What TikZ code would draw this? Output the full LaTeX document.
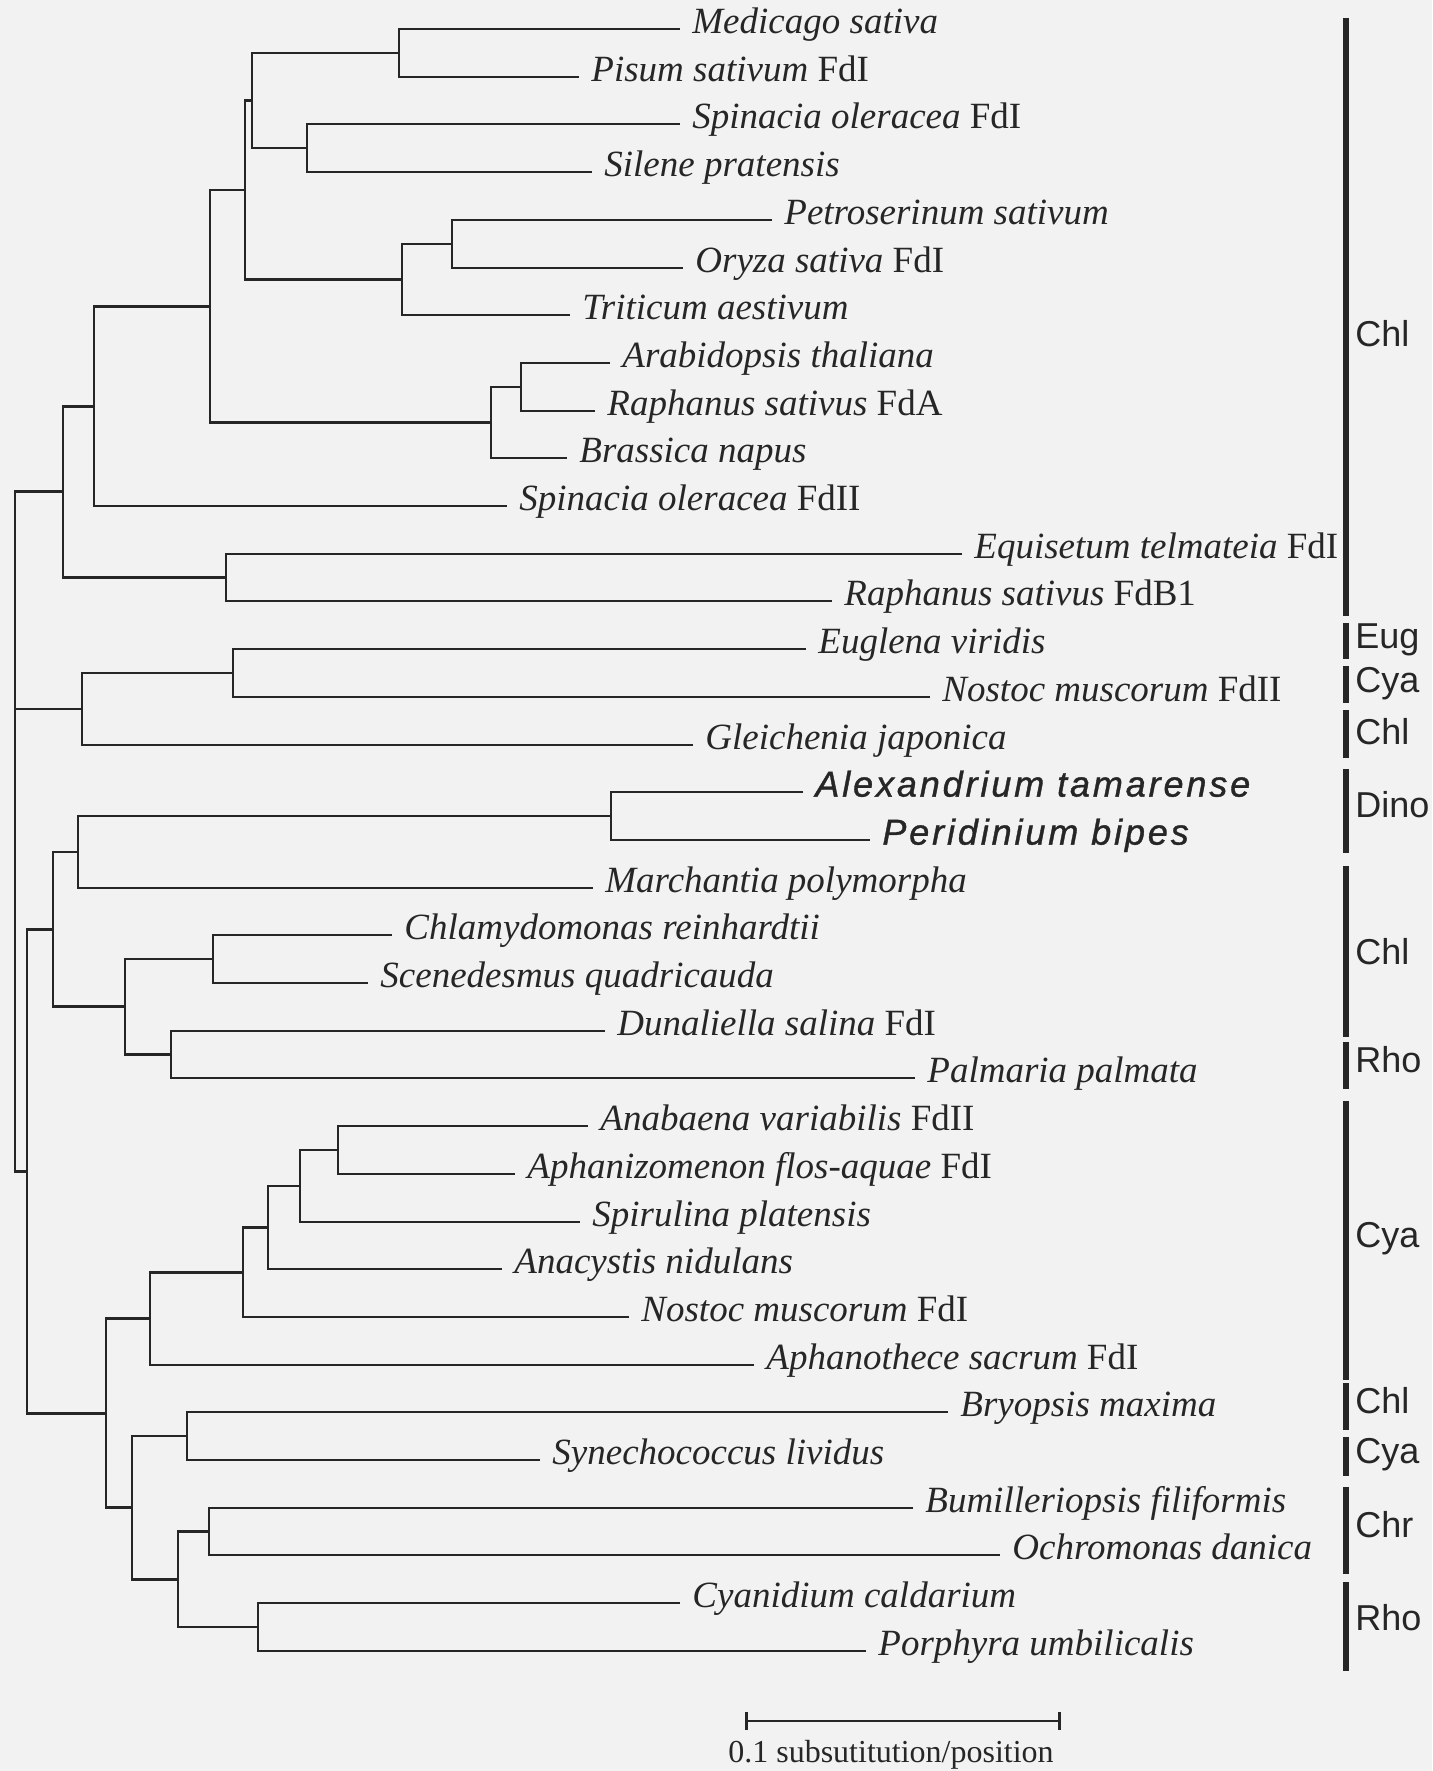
\documentclass[tikz,border=0pt]{standalone}
\usepackage{fontspec}
\setmainfont{Liberation Serif}
\newfontfamily\cladefont{Liberation Sans}
\newfontfamily\dinofont[LetterSpace=8,FakeBold=1]{Liberation Sans}
\usetikzlibrary{arrows.meta}
\tikzset{
  tree/.style={line width=1.4pt,black!85},
  leaf/.style={anchor=mid west,inner xsep=6pt,inner ysep=0pt,text=black!85,font=\fontsize{18.5}{22}\selectfont},
  dino/.style={leaf,font=\dinofont\itshape\fontsize{18}{21}\selectfont},
  cladebar/.style={line width=3pt,black!85},
  clade/.style={anchor=mid west,inner xsep=3pt,inner ysep=0pt,text=black!85,font=\cladefont\fontsize{18}{21}\selectfont}
}
\begin{document}
\begin{tikzpicture}[x=0.5pt,y=-0.5pt]
\fill[black!5] (0,0) rectangle (1432,1771);
\useasboundingbox (0,0) rectangle (1432,1771);
\node[leaf] (t1) at (680,29) {\textit{Medicago sativa}};
\node[leaf] (t2) at (579,77) {\textit{Pisum sativum} FdI};
\node[leaf] (t3) at (680,124) {\textit{Spinacia oleracea} FdI};
\node[leaf] (t4) at (592,172) {\textit{Silene pratensis}};
\node[leaf] (t5) at (772,220) {\textit{Petroserinum sativum}};
\node[leaf] (t6) at (683,268) {\textit{Oryza sativa} FdI};
\node[leaf] (t7) at (570,315) {\textit{Triticum aestivum}};
\node[leaf] (t8) at (610,363) {\textit{Arabidopsis thaliana}};
\node[leaf] (t9) at (595,411) {\textit{Raphanus sativus} FdA};
\node[leaf] (t10) at (567,458) {\textit{Brassica napus}};
\node[leaf] (t11) at (507,506) {\textit{Spinacia oleracea} FdII};
\node[leaf] (t12) at (962,554) {\textit{Equisetum telmateia} FdI};
\node[leaf] (t13) at (832,601) {\textit{Raphanus sativus} FdB1};
\node[leaf] (t14) at (806,649) {\textit{Euglena viridis}};
\node[leaf] (t15) at (930,697) {\textit{Nostoc muscorum} FdII};
\node[leaf] (t16) at (693,745) {\textit{Gleichenia japonica}};
\node[dino] (t17) at (803,792) {Alexandrium tamarense};
\node[dino] (t18) at (870,840) {Peridinium bipes};
\node[leaf] (t19) at (593,888) {\textit{Marchantia polymorpha}};
\node[leaf] (t20) at (392,935) {\textit{Chlamydomonas reinhardtii}};
\node[leaf] (t21) at (368,983) {\textit{Scenedesmus quadricauda}};
\node[leaf] (t22) at (605,1031) {\textit{Dunaliella salina} FdI};
\node[leaf] (t23) at (915,1078) {\textit{Palmaria palmata}};
\node[leaf] (t24) at (588,1126) {\textit{Anabaena variabilis} FdII};
\node[leaf] (t25) at (515,1174) {\textit{Aphanizomenon flos-aquae} FdI};
\node[leaf] (t26) at (580,1222) {\textit{Spirulina platensis}};
\node[leaf] (t27) at (502,1269) {\textit{Anacystis nidulans}};
\node[leaf] (t28) at (629,1317) {\textit{Nostoc muscorum} FdI};
\node[leaf] (t29) at (754,1365) {\textit{Aphanothece sacrum} FdI};
\node[leaf] (t30) at (948,1412) {\textit{Bryopsis maxima}};
\node[leaf] (t31) at (540,1460) {\textit{Synechococcus lividus}};
\node[leaf] (t32) at (913,1508) {\textit{Bumilleriopsis filiformis}};
\node[leaf] (t33) at (1000,1555) {\textit{Ochromonas danica}};
\node[leaf] (t34) at (680,1603) {\textit{Cyanidium caldarium}};
\node[leaf] (t35) at (866,1651) {\textit{Porphyra umbilicalis}};
\coordinate (n1) at (399,53);
\coordinate (n2) at (307,148);
\coordinate (n3) at (252,100.5);
\coordinate (n4) at (452,244);
\coordinate (n5) at (402,279.5);
\coordinate (n6) at (245,190);
\coordinate (n7) at (521,387);
\coordinate (n8) at (491,422.5);
\coordinate (n9) at (210,306.25);
\coordinate (n10) at (94,406.1);
\coordinate (n11) at (226,577.5);
\coordinate (n12) at (63,491.8);
\coordinate (n13) at (233,673);
\coordinate (n14) at (82,709);
\coordinate (n15) at (611,816);
\coordinate (n16) at (78,852);
\coordinate (n17) at (213,959);
\coordinate (n18) at (171,1054.5);
\coordinate (n19) at (125,1006.75);
\coordinate (n20) at (53,929.4);
\coordinate (n21) at (338,1150);
\coordinate (n22) at (300,1186);
\coordinate (n23) at (268,1227.5);
\coordinate (n24) at (243,1272.25);
\coordinate (n25) at (150,1318.6);
\coordinate (n26) at (187,1436);
\coordinate (n27) at (209,1531.5);
\coordinate (n28) at (258,1627);
\coordinate (n29) at (178,1579.25);
\coordinate (n30) at (132,1507.6);
\coordinate (n31) at (106,1413.1);
\coordinate (n32) at (27,1171.25);
\coordinate (n33) at (15,831.5);
\draw[tree] (t1.mid west) -| (n1) |- (t2.mid west);
\draw[tree] (t3.mid west) -| (n2) |- (t4.mid west);
\draw[tree] (n1) -| (n3) |- (n2);
\draw[tree] (t5.mid west) -| (n4) |- (t6.mid west);
\draw[tree] (n4) -| (n5) |- (t7.mid west);
\draw[tree] (n3) -| (n6) |- (n5);
\draw[tree] (t8.mid west) -| (n7) |- (t9.mid west);
\draw[tree] (n7) -| (n8) |- (t10.mid west);
\draw[tree] (n6) -| (n9) |- (n8);
\draw[tree] (n9) -| (n10) |- (t11.mid west);
\draw[tree] (t12.mid west) -| (n11) |- (t13.mid west);
\draw[tree] (n10) -| (n12) |- (n11);
\draw[tree] (t14.mid west) -| (n13) |- (t15.mid west);
\draw[tree] (n13) -| (n14) |- (t16.mid west);
\draw[tree] (t17.mid west) -| (n15) |- (t18.mid west);
\draw[tree] (n15) -| (n16) |- (t19.mid west);
\draw[tree] (t20.mid west) -| (n17) |- (t21.mid west);
\draw[tree] (t22.mid west) -| (n18) |- (t23.mid west);
\draw[tree] (n17) -| (n19) |- (n18);
\draw[tree] (n16) -| (n20) |- (n19);
\draw[tree] (t24.mid west) -| (n21) |- (t25.mid west);
\draw[tree] (n21) -| (n22) |- (t26.mid west);
\draw[tree] (n22) -| (n23) |- (t27.mid west);
\draw[tree] (n23) -| (n24) |- (t28.mid west);
\draw[tree] (n24) -| (n25) |- (t29.mid west);
\draw[tree] (t30.mid west) -| (n26) |- (t31.mid west);
\draw[tree] (t32.mid west) -| (n27) |- (t33.mid west);
\draw[tree] (t34.mid west) -| (n28) |- (t35.mid west);
\draw[tree] (n27) -| (n29) |- (n28);
\draw[tree] (n26) -| (n30) |- (n29);
\draw[tree] (n25) -| (n31) |- (n30);
\draw[tree] (n20) -| (n32) |- (n31);
\draw[tree] (n12) -| (n33) |- (n32);
\draw[tree] (n33) |- (n14);
\draw[cladebar] (1346,18) -- (1346,616);
\draw[cladebar] (1346,623) -- (1346,659);
\draw[cladebar] (1346,666) -- (1346,703);
\draw[cladebar] (1346,710) -- (1346,758);
\draw[cladebar] (1346,769) -- (1346,853);
\draw[cladebar] (1346,866) -- (1346,1037);
\draw[cladebar] (1346,1042) -- (1346,1089);
\draw[cladebar] (1346,1101) -- (1346,1380);
\draw[cladebar] (1346,1383) -- (1346,1430);
\draw[cladebar] (1346,1437) -- (1346,1476);
\draw[cladebar] (1346,1487) -- (1346,1574);
\draw[cladebar] (1346,1582) -- (1346,1671);
\node[clade] (c1) at (1349,342) {Chl};
\node[clade] (c2) at (1349,644) {Eug};
\node[clade] (c3) at (1349,688) {Cya};
\node[clade] (c4) at (1349,740) {Chl};
\node[clade] (c5) at (1349,813) {Dino};
\node[clade] (c6) at (1349,960) {Chl};
\node[clade] (c7) at (1349,1068) {Rho};
\node[clade] (c8) at (1349,1243) {Cya};
\node[clade] (c9) at (1349,1409) {Chl};
\node[clade] (c10) at (1349,1459) {Cya};
\node[clade] (c11) at (1349,1533) {Chr};
\node[clade] (c12) at (1349,1626) {Rho};
\coordinate (s1) at (745,1721);
\coordinate (s2) at (1061,1721);
\draw[tree,{Bar[width=9pt]}-{Bar[width=9pt]}] (s1) -- (s2);
\node[anchor=base,inner sep=0pt,text=black!85,font=\fontsize{16}{19}\selectfont] (sl) at (891,1762) {0.1 subsutitution/position};
\end{tikzpicture}
\end{document}
